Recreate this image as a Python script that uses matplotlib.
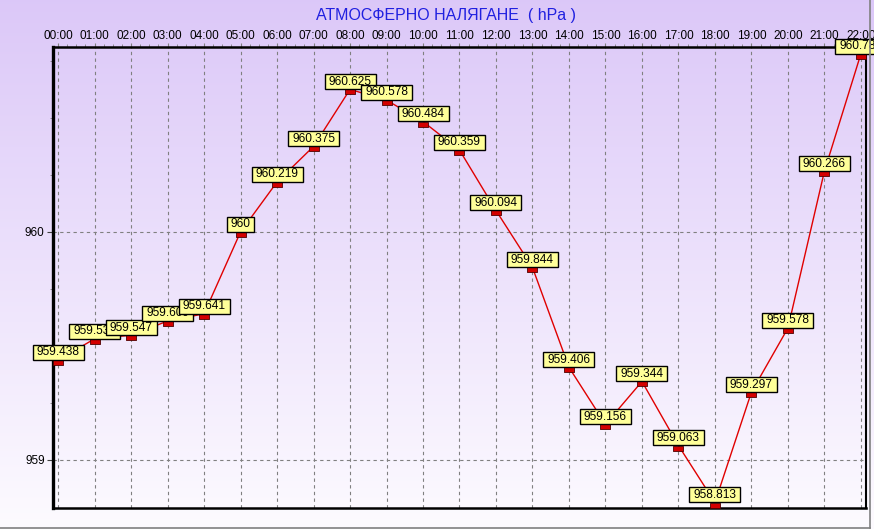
import matplotlib
matplotlib.use("Agg")
import matplotlib.pyplot as plt
import numpy as np
from matplotlib.ticker import MultipleLocator
from matplotlib.lines import Line2D
from matplotlib.path import Path

hours = ["00:00", "01:00", "02:00", "03:00", "04:00", "05:00", "06:00", "07:00",
         "08:00", "09:00", "10:00", "11:00", "12:00", "13:00", "14:00", "15:00",
         "16:00", "17:00", "18:00", "19:00", "20:00", "21:00", "22:00"]
pressure = [959.438, 959.531, 959.547, 959.609, 959.641, 960.0, 960.219, 960.375,
            960.625, 960.578, 960.484, 960.359, 960.094, 959.844, 959.406, 959.156,
            959.344, 959.063, 958.813, 959.297, 959.578, 960.266, 960.781]
point_labels = ["959.438", "959.531", "959.547", "959.609", "959.641", "960", "960.219",
                "960.375", "960.625", "960.578", "960.484", "960.359", "960.094",
                "959.844", "959.406", "959.156", "959.344", "959.063", "958.813",
                "959.297", "959.578", "960.266", "960.781"]
y_ticks = [959, 960]
y_tick_labels = ["959", "960"]
title = "АТМОСФЕРНО НАЛЯГАНЕ  ( hPa )"

plt.rcParams['font.family'] = ['Liberation Sans', 'DejaVu Sans']

fig = plt.figure(figsize=(8.74, 5.29), dpi=100)

# background gradient
bg = fig.add_axes([0, 0, 1, 1], zorder=-10)
t = np.linspace(0, 1, 256)[:, None, None]
top_c = np.array([0.862, 0.784, 0.973])[None, None, :]
bot_c = np.array([0.992, 0.984, 1.0])[None, None, :]
img = top_c + (bot_c - top_c) * t
bg.imshow(img, aspect='auto', extent=[0, 1, 0, 1], origin='upper')
bg.set_xlim(0, 1)
bg.set_ylim(0, 1)
bg.axis('off')

ax = fig.add_axes([53 / 874, 1 - 508 / 529, (866 - 53) / 874, (508 - 47) / 529])
ax.set_facecolor('none')

x = np.arange(len(hours))
ax.plot(x, pressure, color='#e00000', lw=1.0, zorder=3)

# rectangle marker hanging just below the point
rect = Path([(-1, -1), (1, -1), (1, 0), (-1, 0), (-1, -1)],
            [Path.MOVETO, Path.LINETO, Path.LINETO, Path.LINETO, Path.CLOSEPOLY])
ax.plot(x, pressure, ls='none', marker=rect, markersize=7,
        markerfacecolor='#d40000', markeredgecolor='#500000', markeredgewidth=0.6,
        zorder=4, clip_on=False)


def label_box(x0, y0, width, height, mutation_size):
    px = 4.0
    py = 1.5
    xa, xb = x0 - px, x0 + width + px
    ya, yb = y0 - py, y0 + height + py
    return Path([(xa, ya), (xb, ya), (xb, yb), (xa, yb), (xa, ya)],
                [Path.MOVETO, Path.LINETO, Path.LINETO, Path.LINETO, Path.CLOSEPOLY])


for i, (xi, yi, lbl) in enumerate(zip(x, pressure, point_labels)):
    ax.annotate(lbl, (xi, yi), xytext=(0, 1.2), textcoords='offset points',
                ha='center', va='bottom', fontsize=8.6,
                bbox=dict(boxstyle=label_box, fc='#ffff99', ec='black', lw=1),
                zorder=5 + i, annotation_clip=False)

ax.set_xlim(-0.14, 22.14)
ax.set_ylim(958.789, 960.811)

ax.xaxis.tick_top()
ax.set_xticks(x)
ax.set_xticklabels(hours)
ax.xaxis.set_minor_locator(MultipleLocator(0.25))
ax.tick_params(axis='x', which='major', length=3, color='#808080', labelsize=8.5, pad=0.5)
ax.tick_params(axis='x', which='minor', length=2, color='#808080', top=True, bottom=False)

ax.set_yticks(y_ticks)
ax.set_yticklabels(y_tick_labels)
ax.yaxis.set_minor_locator(MultipleLocator(0.25))
ax.tick_params(axis='y', which='major', length=4, color='#404040', labelsize=8.5, pad=2)
ax.tick_params(axis='y', which='minor', length=2, color='#808080')

ax.grid(True, which='major', ls=(0, (3, 3)), color='#808080', lw=0.8)

for side, lw in [('left', 2.4), ('top', 1.8), ('bottom', 1.8), ('right', 1.5)]:
    ax.spines[side].set_linewidth(lw)
    ax.spines[side].set_color('black')

fig.text(445.5 / 874, 1 - 15.5 / 529, title, color='#2020e0', fontsize=11.5,
         ha='center', va='center')

# outer frame
fig.add_artist(Line2D([0, 870 / 874], [1 - 527.5 / 529] * 2, transform=fig.transFigure,
                      color='#808080', lw=1.2))
fig.add_artist(Line2D([869.5 / 874] * 2, [1 - 527.5 / 529, 1], transform=fig.transFigure,
                      color='#808080', lw=1.2))

fig.savefig('out.png', dpi=100)
